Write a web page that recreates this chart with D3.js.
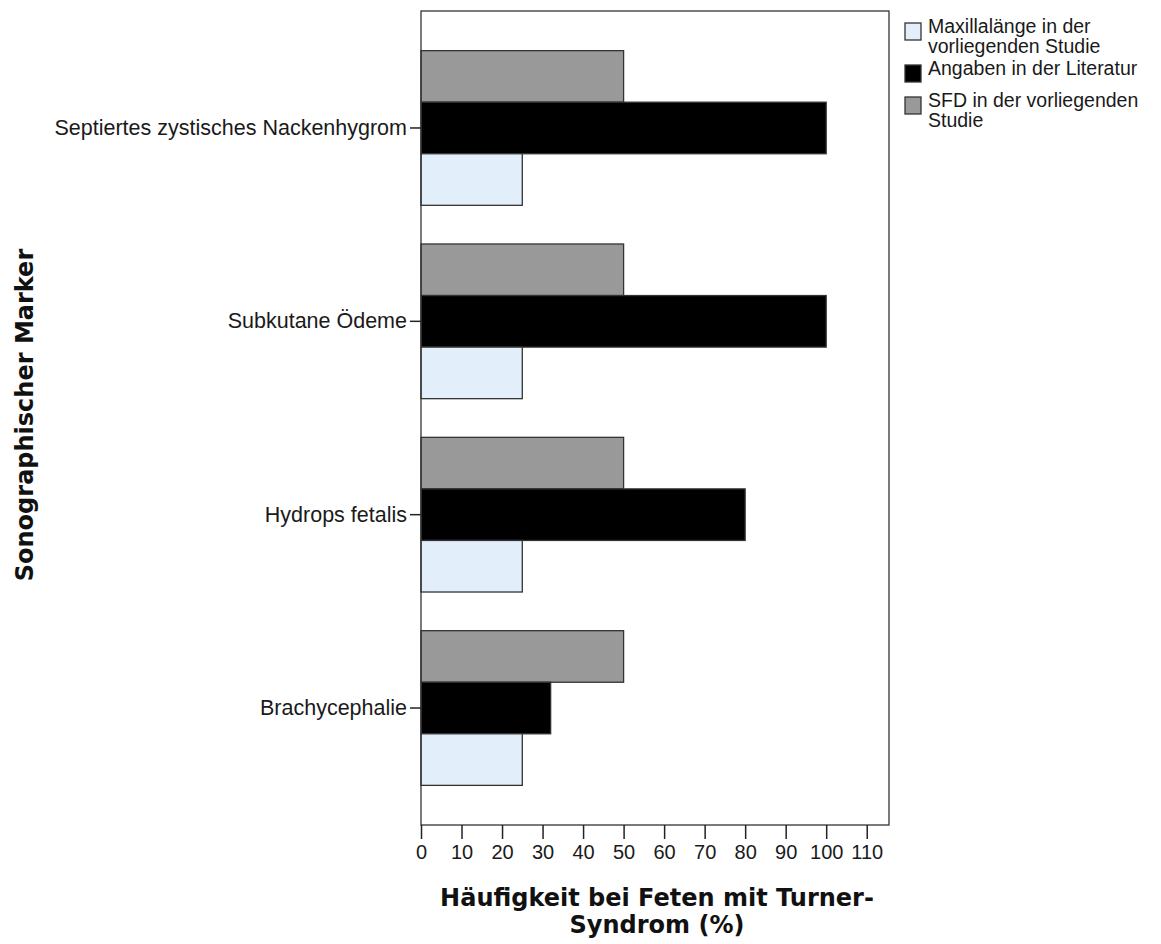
<!DOCTYPE html>
<html>
<head>
<meta charset="utf-8">
<script src="https://cdn.jsdelivr.net/npm/d3@7"></script>
<style>
  html, body { margin: 0; padding: 0; background: #fff; }
  svg { display: block; }
</style>
</head>
<body>
<svg id="chart" width="1161" height="944"></svg>
<script>
// Marker categories (top to bottom)
const categories = [
  "Septiertes zystisches Nackenhygrom",
  "Subkutane Ödeme",
  "Hydrops fetalis",
  "Brachycephalie"
];
// Frequency in fetuses with Turner syndrome (%)
const sfdStudie = [50, 50, 50, 50];
const literatur = [100, 100, 80, 32];
const maxillaStudie = [25, 25, 25, 25];

const seriesKeys = ["sfd", "lit", "max"];
const seriesValues = { sfd: sfdStudie, lit: literatur, max: maxillaStudie };
const seriesColors = { sfd: "#999999", lit: "#000000", max: "#e3eefb" };

const xTicks = [0, 10, 20, 30, 40, 50, 60, 70, 80, 90, 100, 110];

const legendItems = [
  { key: "max", lines: ["Maxillalänge in der", "vorliegenden Studie"] },
  { key: "lit", lines: ["Angaben in der Literatur"] },
  { key: "sfd", lines: ["SFD in der vorliegenden", "Studie"] }
];

const svg = d3.select("#chart");
const plot = { left: 421, right: 889, top: 11, bottom: 825 };

const x = d3.scaleLinear().domain([0, 115.5]).range([plot.left, plot.right]);
const y = d3.scaleBand().domain(categories).range([plot.top, plot.bottom])
  .paddingInner(0.2).paddingOuter(0.205);
const ySub = d3.scaleBand().domain(seriesKeys).range([0, y.bandwidth()]).padding(0);

const rows = categories.map((c, i) => ({
  cat: c,
  bars: seriesKeys.map(k => ({ key: k, value: seriesValues[k][i] }))
}));

// bars
const groups = svg.append("g").selectAll("g").data(rows).join("g")
  .attr("transform", d => `translate(0,${y(d.cat)})`);
groups.selectAll("rect").data(d => d.bars).join("rect")
  .attr("x", x(0))
  .attr("y", d => ySub(d.key))
  .attr("width", d => x(d.value) - x(0))
  .attr("height", ySub.bandwidth())
  .attr("fill", d => seriesColors[d.key])
  .attr("stroke", "#333")
  .attr("stroke-width", 1.3);

// frame
svg.append("rect")
  .attr("x", plot.left).attr("y", plot.top)
  .attr("width", plot.right - plot.left).attr("height", plot.bottom - plot.top)
  .attr("fill", "none").attr("stroke", "#333").attr("stroke-width", 1.3);

// x axis
const xAxis = svg.append("g")
  .attr("transform", `translate(0,${plot.bottom})`)
  .call(d3.axisBottom(x).tickValues(xTicks).tickSize(14).tickPadding(6).tickSizeOuter(0));
xAxis.select(".domain").remove();
xAxis.selectAll(".tick line").attr("stroke", "#222").attr("stroke-width", 1.5);
xAxis.selectAll(".tick text")
  .attr("font-family", "'Liberation Sans', Arial, sans-serif")
  .attr("font-size", 20).attr("fill", "#1a1a1a");

// y axis
const yAxis = svg.append("g")
  .attr("transform", `translate(${plot.left},0)`)
  .call(d3.axisLeft(y).tickSize(11).tickPadding(3).tickSizeOuter(0));
yAxis.select(".domain").remove();
yAxis.selectAll(".tick line").attr("stroke", "#222").attr("stroke-width", 1.5);
yAxis.selectAll(".tick text")
  .attr("font-family", "'Liberation Sans', Arial, sans-serif")
  .attr("font-size", 21.5).attr("fill", "#1a1a1a");

// axis titles
svg.append("text")
  .attr("transform", "translate(33,415) rotate(-90)")
  .attr("text-anchor", "middle")
  .attr("font-family", "'DejaVu Sans', Verdana, sans-serif")
  .attr("font-weight", "bold").attr("font-size", 24).attr("fill", "#111")
  .text("Sonographischer Marker");

const xTitle = svg.append("text")
  .attr("text-anchor", "middle")
  .attr("font-family", "'DejaVu Sans', Verdana, sans-serif")
  .attr("font-weight", "bold").attr("font-size", 24).attr("fill", "#111");
xTitle.append("tspan").attr("x", 657).attr("y", 906).text("Häufigkeit bei Feten mit Turner-");
xTitle.append("tspan").attr("x", 657).attr("y", 933).text("Syndrom (%)");

// legend: swatch + wrapped label lines
const legendTop = [23, 65, 97];
const lineStep = 20;
const legend = svg.append("g").selectAll("g").data(legendItems).join("g")
  .attr("transform", (d, i) => `translate(905,${legendTop[i]})`);
legend.append("rect")
  .attr("width", 16).attr("height", 17)
  .attr("fill", d => seriesColors[d.key])
  .attr("stroke", "#333").attr("stroke-width", 1.3);
legend.each(function (d) {
  const g = d3.select(this);
  d.lines.forEach((line, j) => {
    g.append("text")
      .attr("font-family", "'Liberation Sans', Arial, sans-serif")
      .attr("font-size", 19.5).attr("fill", "#1a1a1a")
      .attr("x", 23)
      .attr("y", 10 + j * lineStep)
      .text(line);
  });
});
</script>
</body>
</html>
